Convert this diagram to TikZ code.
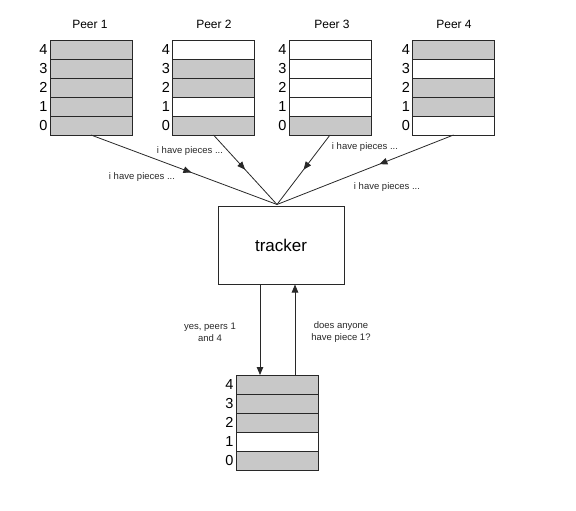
\documentclass[tikz,border=0pt]{standalone}
\usepackage{fontspec}
\setmainfont{Liberation Sans}
\usetikzlibrary{arrows.meta,decorations.markings,calc}
\definecolor{piece}{RGB}{200,200,200}
\definecolor{ink}{RGB}{40,40,40}
\tikzset{
  cell/.style={draw=ink, line width=0.9pt, minimum width=82pt, minimum height=19pt, inner sep=0pt, outer sep=0pt},
  g/.style={cell, fill=piece},
  w/.style={cell, fill=white},
  digit/.style={font=\fontsize{14.5}{15}\selectfont, text=black, inner sep=0pt},
  peertitle/.style={font=\fontsize{12}{13}\selectfont, text=black, inner sep=0pt},
  msg/.style={font=\fontsize{9.5}{12}\selectfont, text=ink, inner sep=0pt, align=center},
  trackerbox/.style={draw=ink, line width=1pt, minimum width=126pt, minimum height=78pt, inner sep=0pt, font=\fontsize{17}{18}\selectfont},
  link/.style={draw=ink, line width=0.8pt},
  midarrow/.style={postaction={decorate}, decoration={markings, mark=at position #1 with {\arrow{Triangle[length=8pt,width=6.5pt]}}}},
  endarrow/.style={-{Triangle[length=8pt,width=6.5pt]}}
}
% #1 name, #2 box centre x, #3 top y, #4 list of styles for rows 4..0
\newcommand\piececol[4]{%
  \foreach \f [count=\i] in {#4} {%
    \pgfmathsetmacro\yy{#3+9.5+19*(\i-1)}%
    \pgfmathtruncatemacro\dd{5-\i}%
    \node[\f] (#1r\dd) at (#2,\yy) {};
    \node[digit] (#1d\dd) at (#2-47.5,\yy) {\dd};
  }%
}
\begin{document}
\begin{tikzpicture}[x=1pt,y=-1pt]
\useasboundingbox (0,0) rectangle (576,511);
% peers
\piececol{pa}{91}{40}{g,g,g,g,g}
\piececol{pb}{213.5}{40}{w,g,g,w,g}
\piececol{pc}{330}{40}{w,w,w,w,g}
\piececol{pd}{453.5}{40}{g,w,g,g,w}
\node[peertitle] (ta) at (90,24) {Peer 1};
\node[peertitle] (tb) at (214,24) {Peer 2};
\node[peertitle] (tc) at (332,24) {Peer 3};
\node[peertitle] (td) at (454,24) {Peer 4};
% tracker
\node[trackerbox] (tracker) at (281,245) {tracker};
\coordinate (hub) at ($(tracker.north)+(-4,-1)$);
\draw[link, midarrow=0.54] (par0.south) -- (hub);
\draw[link, midarrow=0.5] (pbr0.south) -- (hub);
\draw[link, midarrow=0.5] (pcr0.south) -- (hub);
\draw[link, midarrow=0.42] (pdr0.south) -- (hub);
\node[msg] (m1) at (142,177) {i have pieces ...};
\node[msg] (m2) at (190,151) {i have pieces ...};
\node[msg] (m3) at (365,147) {i have pieces ...};
\node[msg] (m4) at (387,187) {i have pieces ...};
% requesting peer
\piececol{me}{277}{375}{g,g,g,w,g}
\draw[link, endarrow] ([xshift=-21pt]tracker.south) -- ([xshift=-21pt]tracker.south |- mer4.north);
\draw[link, endarrow] ([xshift=14pt]tracker.south |- mer4.north) -- ([xshift=14pt]tracker.south);
\node[msg] (m5) at (210,332) {yes, peers 1\\and 4};
\node[msg] (m6) at (341,332) {does anyone\\have piece 1?};
\end{tikzpicture}
\end{document}
